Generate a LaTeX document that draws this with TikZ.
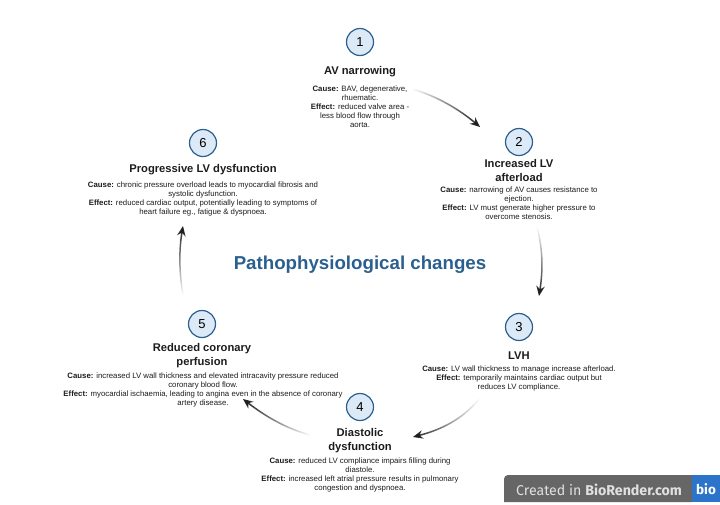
\documentclass[tikz,border=0pt]{standalone}
\usepackage{fontspec}
\setmainfont{Liberation Sans}
\newfontfamily\badgefont{Fira Sans}
\usetikzlibrary{arrows.meta, fadings}

\definecolor{ringblue}{HTML}{2A5F8F}
\definecolor{discblue}{HTML}{DCE9F7}
\definecolor{inkgray}{HTML}{1C1C1C}
\definecolor{badgegray}{HTML}{666666}
\definecolor{badgeblue}{HTML}{2B74C9}

\tikzfading[name=tailfade, left color=transparent!100, middle color=transparent!5, right color=transparent!0]

\tikzset{
	stepnum/.style = {circle, draw = ringblue, line width = 1.2pt, fill = discblue, minimum size = 27pt, inner sep = 0pt, font = \fontsize{13}{13}\selectfont, text = black},
	stephead/.style = {align = center, inner sep = 0pt, font = \fontsize{11.2}{14}\selectfont\bfseries, text = inkgray},
	stepbody/.style = {align = center, inner sep = 0pt, font = \fontsize{7.8}{9}\selectfont, text = inkgray},
	flow/.style = {-{Stealth[length = 10pt, width = 8.5pt]}, line width = 1.5pt, draw = inkgray}
}

\begin{document}
\begin{tikzpicture}[x = 1pt, y = -1pt]
	\useasboundingbox (0,0) rectangle (720,504);
	
	%numbered circles
	\node [stepnum] (n1) at (360,42) {1};
	\node [stepnum] (n2) at (519,142) {2};
	\node [stepnum] (n3) at (519,327) {3};
	\node [stepnum] (n4) at (360,407) {4};
	\node [stepnum] (n5) at (202,324) {5};
	\node [stepnum] (n6) at (203,143) {6};
	
	%headings
	\node [stephead] (h1) at (360,72) {AV narrowing};
	\node [stephead] (h2) at (519,170.5) {Increased LV\\afterload};
	\node [stephead] (h3) at (519,356) {LVH};
	\node [stephead] (h4) at (360,440.5) {Diastolic\\dysfunction};
	\node [stephead] (h5) at (202,356) {Reduced coronary\\perfusion};
	\node [stephead] (h6) at (203,170) {Progressive LV dysfunction};
	
	%cause and effect
	\node [stepbody] (t1) at (360,107) {\textbf{Cause:} BAV, degenerative,\\rhuematic.\\\textbf{Effect:} reduced valve area -\\less blood flow through\\aorta.};
	\node [stepbody] (t2) at (519,203.5) {\textbf{Cause:} narrowing of AV causes resistance to\\ejection.\\\textbf{Effect:} LV must generate higher pressure to\\overcome stenosis.};
	\node [stepbody] (t3) at (519,378.5) {\textbf{Cause:} LV wall thickness to manage increase afterload.\\\textbf{Effect:} temporarily maintains cardiac output but\\reduces LV compliance.};
	\node [stepbody] (t4) at (360,474.5) {\textbf{Cause:} reduced LV compliance impairs filling during\\diastole.\\\textbf{Effect:} increased left atrial pressure results in pulmonary\\congestion and dyspnoea.};
	\node [stepbody] (t5) at (203,389.5) {\textbf{Cause:} increased LV wall thickness and elevated intracavity pressure reduced\\coronary blood flow.\\\textbf{Effect:} myocardial ischaemia, leading to angina even in the absence of coronary\\artery disease.};
	\node [stepbody] (t6) at (203,198.5) {\textbf{Cause:} chronic pressure overload leads to myocardial fibrosis and\\systolic dysfunction.\\\textbf{Effect:} reduced cardiac output, potentially leading to symptoms of\\heart failure eg., fatigue \& dyspnoea.};
	
	%centre title
	\node [inner sep = 0pt, font = \fontsize{18.7}{20}\selectfont\bfseries, text = ringblue] (title) at (360,264.5) {Pathophysiological changes};
	
	%arrow ends
	\coordinate (s1) at (412,89);
	\coordinate (e1) at (480,127);
	\coordinate (s2) at (537,227);
	\coordinate (e2) at (539,296);
	\coordinate (s3) at (479,399);
	\coordinate (e3) at (413,437);
	\coordinate (s4) at (310,435);
	\coordinate (e4) at (243,399);
	\coordinate (s5) at (183,295);
	\coordinate (e5) at (183,226);
	
	%arrows
	\draw [flow, path fading = tailfade] (s1) .. controls (437,96) and (460,110) .. (e1);
	\draw [flow, path fading = tailfade, fading angle = -90] (s2) .. controls (543,250) and (543,270) .. (e2);
	\draw [flow, path fading = tailfade, fading angle = 180] (s3) .. controls (462,420) and (440,430) .. (e3);
	\draw [flow, path fading = tailfade, fading angle = 180] (s4) .. controls (285,428) and (265,416) .. (e4);
	\draw [flow, path fading = tailfade, fading angle = 90] (s5) .. controls (179,272) and (179,250) .. (e5);
	
	%badge
	\fill [badgegray] (504,502) [rounded corners = 4pt] -- (504,475) [sharp corners] -- (692,475) -- (692,502) -- cycle;
	\fill [badgeblue] (692,475) rectangle (720,502);
	\node [anchor = west, inner sep = 0pt, text = white!88!black, font = \badgefont\fontsize{14.2}{15}\selectfont] (badge) at (516,490) {Created in \textbf{BioRender.com}};
	\node [inner sep = 0pt, text = white, font = \badgefont\fontsize{13.5}{14}\selectfont\bfseries] (logo) at (706,489.5) {bio};
\end{tikzpicture}
\end{document}
